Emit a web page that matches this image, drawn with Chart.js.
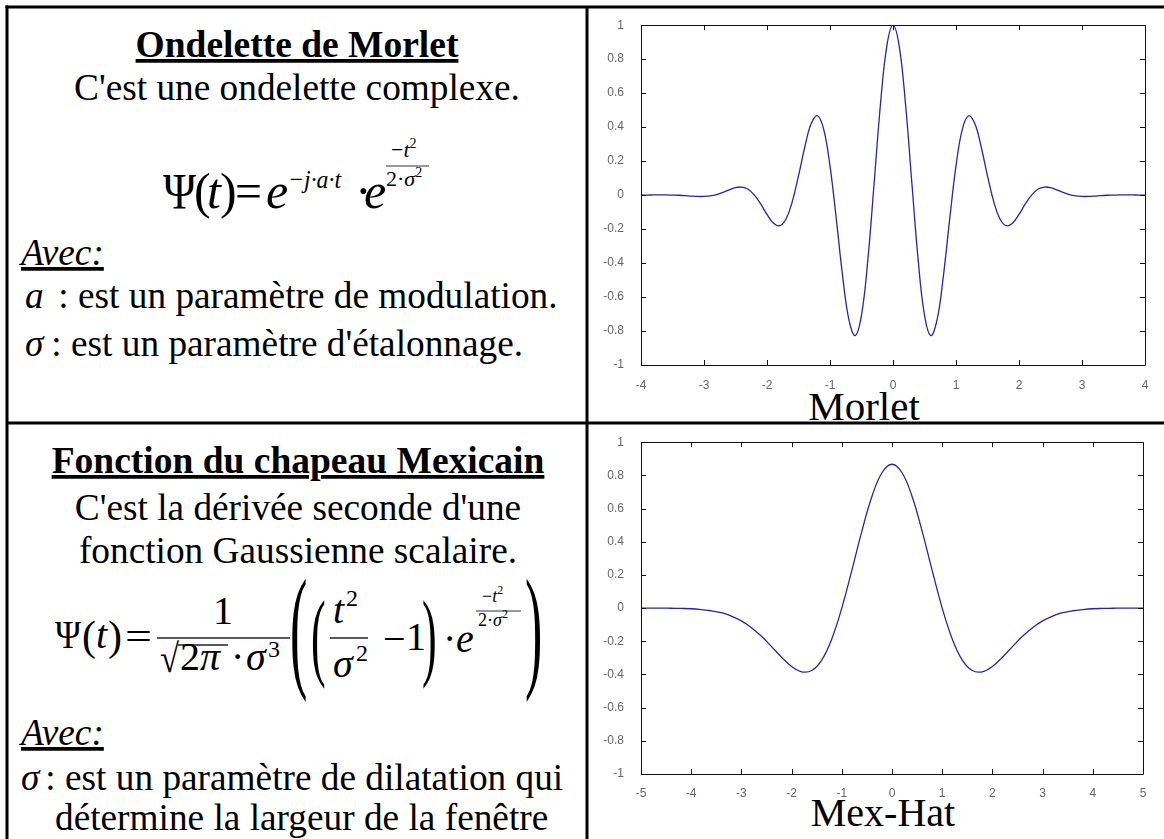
<!DOCTYPE html>
<html lang="fr">
<head>
<meta charset="utf-8">
<title>Ondelettes</title>
<script src="https://cdn.jsdelivr.net/npm/chart.js@4.4.1/dist/chart.umd.min.js"></script>
<style>
  html, body { margin: 0; padding: 0; background: #fff; }
  body { position: relative; width: 1164px; height: 839px; overflow: hidden; }
  #page { position: absolute; left: 0; top: 0; }
  #page text { font-family: "Liberation Serif", "Times New Roman", serif; fill: #000; }
  .body { font-size: 37.3px; }
  .titre { font-size: 37.5px; font-weight: bold; text-decoration: underline; }
  .it { font-style: italic; }
  canvas { position: absolute; }
</style>
</head>
<body>
<svg id="page" width="1164" height="839">
  <!-- table borders -->
  <g stroke="#000" stroke-width="3">
    <line x1="7" y1="5.5" x2="7" y2="839" />
    <line x1="5.5" y1="7" x2="1164" y2="7" />
    <line x1="587" y1="7" x2="587" y2="839" />
    <line x1="7" y1="423" x2="1164" y2="423" />
  </g>

  <!-- Morlet cell -->
  <text class="titre" x="297" y="57" text-anchor="middle">Ondelette de Morlet</text>
  <text class="body" x="297" y="100" text-anchor="middle">C'est une ondelette complexe.</text>

  <g font-size="50">
    <text x="163" y="208" textLength="33" lengthAdjust="spacingAndGlyphs">Ψ</text>
    <text x="194" y="208">(</text>
    <text x="207" y="208" class="it">t</text>
    <text x="220" y="208">)</text>
    <text x="235" y="208" textLength="27" lengthAdjust="spacingAndGlyphs">=</text>
    <text x="266" y="208" class="it">e</text>
    <text x="288" y="188" font-size="26" class="it" textLength="53" lengthAdjust="spacingAndGlyphs">−j·a·t</text>
    <text x="355" y="208">·</text>
    <text x="364" y="208" class="it">e</text>
    <text x="391" y="157" font-size="22">−<tspan class="it">t</tspan><tspan font-size="14" dy="-9">2</tspan></text>
    <line x1="386" y1="166" x2="429" y2="166" stroke="#333" stroke-width="1.2" />
    <text x="386" y="186" font-size="22">2·<tspan class="it">σ</tspan><tspan font-size="14" dy="-9">2</tspan></text>
  </g>

  <text class="body it" x="21" y="265" text-decoration="underline">Avec:</text>
  <text class="body" y="308"><tspan x="25" class="it">a</tspan><tspan x="49"> : est un paramètre de modulation.</tspan></text>
  <text class="body" y="356"><tspan x="25" class="it">σ</tspan><tspan x="42"> : est un paramètre d'étalonnage.</tspan></text>

  <!-- Mexican hat cell -->
  <text class="titre" x="298" y="473" text-anchor="middle">Fonction du chapeau Mexicain</text>
  <text class="body" x="298" y="520" text-anchor="middle">C'est la dérivée seconde d'une</text>
  <text class="body" x="298" y="563" text-anchor="middle">fonction Gaussienne scalaire.</text>

  <g font-size="40">
    <text x="55" y="648" textLength="26" lengthAdjust="spacingAndGlyphs">Ψ</text>
    <text x="82" y="650" font-size="42">(</text>
    <text x="96" y="648" class="it">t</text>
    <text x="108" y="650" font-size="42">)</text>
    <text x="125" y="650" textLength="27" lengthAdjust="spacingAndGlyphs">=</text>
    <line x1="157" y1="638" x2="290" y2="638" stroke="#222" stroke-width="1.5" />
    <text x="223" y="624" text-anchor="middle">1</text>
    <text x="160" y="672" textLength="19" lengthAdjust="spacingAndGlyphs">√</text>
    <line x1="178" y1="645" x2="228" y2="645" stroke="#222" stroke-width="1.5" />
    <text x="180" y="670">2<tspan class="it">π</tspan></text>
    <text x="231" y="670">·</text>
    <text x="246" y="670" class="it">σ</text>
    <text x="268" y="657" font-size="24">3</text>

    <text transform="translate(290,673) scale(1.3,3.4)">(</text>
    <text transform="translate(311,668) scale(1.1,2.42)">(</text>
    <text x="333" y="623" class="it">t</text>
    <text x="346" y="606" font-size="24">2</text>
    <line x1="330" y1="638" x2="368" y2="638" stroke="#222" stroke-width="1.5" />
    <text x="333" y="677" class="it">σ</text>
    <text x="356" y="661" font-size="24">2</text>
    <text x="383" y="652">−</text>
    <text x="406" y="650">1</text>
    <text transform="translate(422,668) scale(1.1,2.42)">)</text>
    <text x="443" y="652">·</text>
    <text x="456" y="652" class="it">e</text>
    <text x="482" y="602" font-size="18">−<tspan class="it">t</tspan><tspan font-size="12" dy="-8">2</tspan></text>
    <line x1="476" y1="611" x2="521" y2="611" stroke="#333" stroke-width="1.2" />
    <text x="478" y="626" font-size="18">2·<tspan class="it">σ</tspan><tspan font-size="12" dy="-8">2</tspan></text>
    <text transform="translate(525,673) scale(1.3,3.4)">)</text>
  </g>

  <text class="body it" x="21" y="745" text-decoration="underline">Avec:</text>
  <text class="body" y="790"><tspan x="21" class="it">σ</tspan><tspan x="36"> : est un paramètre de dilatation qui</tspan></text>
  <text class="body" x="55" y="830">détermine la largeur de la fenêtre</text>

  <!-- plot captions -->
  <text x="864" y="420" font-size="41" text-anchor="middle">Morlet</text>
  <text x="883" y="826" font-size="40" text-anchor="middle">Mex-Hat</text>
</svg>

<canvas id="morletChart" width="574" height="412" style="left:590px;top:9px"></canvas>
<canvas id="mexhatChart" width="574" height="413" style="left:590px;top:426px"></canvas>

<script>
// Morlet wavelet, sampled every 0.1 on [-4, 4]
const morletT = [
  -4.0, -3.9, -3.8, -3.7, -3.6, -3.5, -3.4, -3.3, -3.2, -3.1,
  -3.0, -2.9, -2.8, -2.7, -2.6, -2.5, -2.4, -2.3, -2.2, -2.1,
  -2.0, -1.9, -1.8, -1.7, -1.6, -1.5, -1.4, -1.3, -1.2, -1.1,
  -1.0, -0.9, -0.8, -0.7, -0.6, -0.5, -0.4, -0.3, -0.2, -0.1,
  0.0,
  0.1, 0.2, 0.3, 0.4, 0.5, 0.6, 0.7, 0.8, 0.9, 1.0,
  1.1, 1.2, 1.3, 1.4, 1.5, 1.6, 1.7, 1.8, 1.9, 2.0,
  2.1, 2.2, 2.3, 2.4, 2.5, 2.6, 2.7, 2.8, 2.9, 3.0,
  3.1, 3.2, 3.3, 3.4, 3.5, 3.6, 3.7, 3.8, 3.9, 4.0
];
const morletPsi = [
  0.000, 0.000, 0.001, 0.001, 0.001, 0.000, -0.001, -0.003, -0.006, -0.008,
  -0.008, -0.005, 0.003, 0.016, 0.031, 0.044, 0.047, 0.034, 0.000, -0.052,
  -0.114, -0.164, -0.180, -0.142, -0.040, 0.113, 0.283, 0.420, 0.467, 0.387,
  0.172, -0.141, -0.475, -0.733, -0.827, -0.707, -0.384, 0.068, 0.530, 0.873,
  1.000,
  0.873, 0.530, 0.068, -0.384, -0.707, -0.827, -0.733, -0.475, -0.141, 0.172,
  0.387, 0.467, 0.420, 0.283, 0.113, -0.040, -0.142, -0.180, -0.164, -0.114,
  -0.052, 0.000, 0.034, 0.047, 0.044, 0.031, 0.016, 0.003, -0.005, -0.008,
  -0.008, -0.006, -0.003, -0.001, 0.000, 0.001, 0.001, 0.001, 0.000, 0.000
];

// Mexican hat, sampled every 0.2 on [-5, 5]
const mexhatT = [
  -5.0, -4.8, -4.6, -4.4, -4.2, -4.0, -3.8, -3.6, -3.4, -3.2,
  -3.0, -2.8, -2.6, -2.4, -2.2, -2.0, -1.8, -1.6, -1.4, -1.2,
  -1.0, -0.8, -0.6, -0.4, -0.2,
  0.0,
  0.2, 0.4, 0.6, 0.8, 1.0,
  1.2, 1.4, 1.6, 1.8, 2.0, 2.2, 2.4, 2.6, 2.8, 3.0,
  3.2, 3.4, 3.6, 3.8, 4.0, 4.2, 4.4, 4.6, 4.8, 5.0
];
const mexhatPsi = [
  0.000, 0.000, 0.000, -0.001, -0.002, -0.004, -0.009, -0.016, -0.028, -0.048,
  -0.077, -0.118, -0.170, -0.232, -0.296, -0.352, -0.384, -0.376, -0.313, -0.186,
  0.000, 0.227, 0.464, 0.673, 0.816,
  0.867,
  0.816, 0.673, 0.464, 0.227, 0.000,
  -0.186, -0.313, -0.376, -0.384, -0.352, -0.296, -0.232, -0.170, -0.118, -0.077,
  -0.048, -0.028, -0.016, -0.009, -0.004, -0.002, -0.001, 0.000, 0.000, 0.000
];

const lineColor = '#2424b4';
const tickFont = { family: 'Liberation Sans, Arial, sans-serif', size: 12 };
const tickColor = '#666';

// box around the plot area with inward ticks on all four sides
const boxPlugin = {
  id: 'boxPlugin',
  afterDraw(chart) {
    const { ctx, chartArea: a, scales: { x, y } } = chart;
    const len = 5;
    ctx.save();
    ctx.strokeStyle = '#111';
    ctx.lineWidth = 1;
    ctx.beginPath();
    ctx.rect(Math.round(a.left) + 0.5, Math.round(a.top) + 0.5,
             Math.round(a.width), Math.round(a.height));
    x.ticks.forEach((t, i) => {
      const px = Math.round(x.getPixelForTick(i)) + 0.5;
      ctx.moveTo(px, a.bottom); ctx.lineTo(px, a.bottom - len);
      ctx.moveTo(px, a.top); ctx.lineTo(px, a.top + len);
    });
    y.ticks.forEach((t, i) => {
      const py = Math.round(y.getPixelForTick(i)) + 0.5;
      ctx.moveTo(a.left, py); ctx.lineTo(a.left + len, py);
      ctx.moveTo(a.right, py); ctx.lineTo(a.right - len, py);
    });
    ctx.stroke();
    ctx.restore();
  }
};

function makeChart(id, ts, vals, xMin, xMax, yAxisWidth, xAxisHeight, padRight, labelGap) {
  const pts = ts.map((t, i) => ({ x: t, y: vals[i] }));
  return new Chart(document.getElementById(id), {
    type: 'line',
    data: {
      datasets: [{
        data: pts,
        borderColor: lineColor,
        borderWidth: 1.3,
        pointRadius: 0,
        tension: 0.4,
        fill: false
      }]
    },
    options: {
      responsive: false,
      animation: false,
      devicePixelRatio: 1,
      layout: { padding: { left: 0, right: padRight, top: 7, bottom: 0 } },
      plugins: { legend: { display: false }, tooltip: { enabled: false } },
      scales: {
        x: {
          type: 'linear',
          min: xMin,
          max: xMax,
          grid: { display: false },
          border: { display: false },
          ticks: { stepSize: 1, padding: labelGap, color: tickColor, font: tickFont, maxRotation: 0 },
          afterFit(s) { s.height = xAxisHeight; }
        },
        y: {
          min: -1,
          max: 1,
          grid: { display: false },
          border: { display: false },
          ticks: {
            stepSize: 0.2,
            padding: 9,
            color: tickColor,
            font: tickFont,
            callback: v => String(Number(v.toFixed(1)))
          },
          afterFit(s) { s.width = yAxisWidth; }
        }
      }
    },
    plugins: [boxPlugin]
  });
}

makeChart('morletChart', morletT, morletPsi, -4, 4, 51, 56, 19, 5);
makeChart('mexhatChart', mexhatT, mexhatPsi, -5, 5, 51, 65, 21, 4);
</script>
</body>
</html>
